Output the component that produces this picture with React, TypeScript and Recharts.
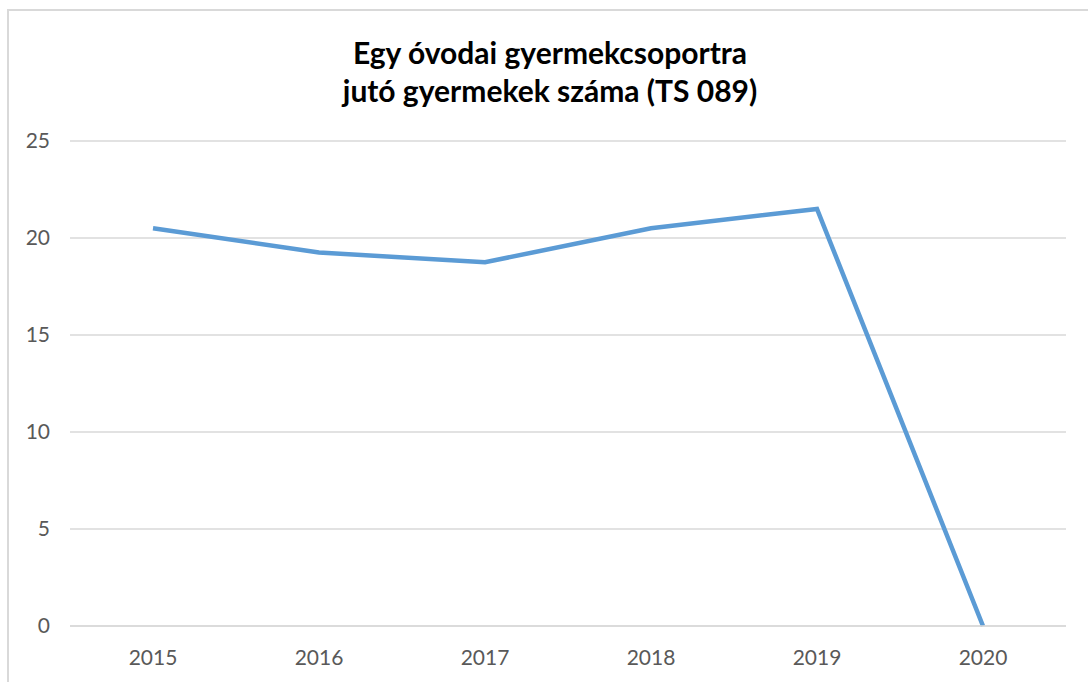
import React from 'react';
import { LineChart, Line, XAxis, YAxis, CartesianGrid } from 'recharts';

const years = ['2015', '2016', '2017', '2018', '2019', '2020'];
const childrenPerGroup = [20.5, 19.25, 18.75, 20.5, 21.5, 0];
const yTicks = [0, 5, 10, 15, 20, 25];
const titleLines = ['Egy óvodai gyermekcsoportra', 'jutó gyermekek száma (TS 089)'];

const data = years.map((year, i) => ({ year, value: childrenPerGroup[i] }));

const FONT = 'Lato, "Open Sans", sans-serif';

const App: React.FC = () => {
  return (
    <div style={{ position: 'absolute', left: 0, top: 0, width: 1088, height: 682, background: '#fff', overflow: 'hidden', fontFamily: FONT }}>
      <div style={{ position: 'absolute', left: 7, top: 9, width: 1200, height: 800, borderLeft: '2px solid #d9d9d9', borderTop: '2px solid #d9d9d9' }} />
      <div style={{ position: 'absolute', left: 0, top: 33, width: 1100, textAlign: 'center', fontWeight: 700, fontSize: 30, lineHeight: '38px', color: '#000' }}>
        {titleLines.map(t => <div key={t}>{t}</div>)}
      </div>
      <div style={{ position: 'absolute', left: 0, top: 0 }}>
        <LineChart width={1088} height={682} data={data} margin={{ top: 141, right: 22, left: 10, bottom: 26 }}>
          <CartesianGrid vertical={false} stroke="#d9d9d9" strokeWidth={1.5} />
          <XAxis
            dataKey="year"
            padding={{ left: 83, right: 83 }}
            axisLine={{ stroke: '#d9d9d9', strokeWidth: 1.5 }}
            tickLine={false}
            tickSize={0}
            tickMargin={24}
            height={30}
            tick={{ fill: '#595959', fontSize: 21, fontFamily: FONT }}
          />
          <YAxis
            domain={[0, 25]}
            ticks={yTicks}
            axisLine={false}
            tickLine={false}
            tickSize={0}
            tickMargin={20}
            width={60}
            tick={{ fill: '#595959', fontSize: 21, fontFamily: FONT }}
          />
          <Line
            type="linear"
            dataKey="value"
            stroke="#5b9bd5"
            strokeWidth={4.5}
            dot={false}
            activeDot={false}
            isAnimationActive={false}
          />
        </LineChart>
      </div>
    </div>
  );
};

export default App;
